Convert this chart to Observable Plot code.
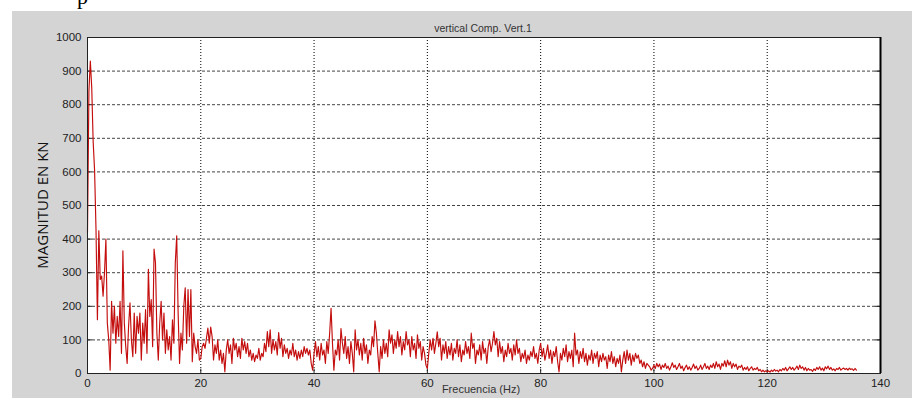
<!DOCTYPE html>
<html><head><meta charset="utf-8">
<script src="https://cdn.jsdelivr.net/npm/d3@7"></script>
<script src="https://cdn.jsdelivr.net/npm/@observablehq/plot@0.6"></script>
<style>
body{margin:0;background:#fff;}
#wrap{position:relative;width:912px;height:398px;overflow:hidden;font-family:"Liberation Sans",Arial,sans-serif;}
#bg{position:absolute;left:12px;top:11px;width:900px;height:387px;background:#d4d4d4;}
#cut{position:absolute;left:77px;top:-14px;font:22px/22px "Liberation Serif",serif;color:#000;}
#title{position:absolute;left:283px;width:400px;text-align:center;top:22px;font-size:10.5px;color:#333;}
#xlabel{position:absolute;left:381px;width:200px;text-align:center;top:383px;font-size:11px;color:#333;}
#ylabel{position:absolute;left:42px;top:205px;transform:translate(-50%,-50%) rotate(-90deg);font-family:"Open Sans",sans-serif;font-size:15px;white-space:nowrap;color:#111;}
#chart{position:absolute;left:0;top:0;}
</style>
</head><body>
<div id="wrap">
  <div id="bg"></div>
  <div id="cut">p</div>
  <div id="chart"></div>
  <div id="title">vertical Comp. Vert.1</div>
  <div id="xlabel">Frecuencia (Hz)</div>
  <div id="ylabel">MAGNITUD EN KN</div>
</div>
<script>
const freqStep = 0.25; // Hz between samples
const xTicks = [0, 20, 40, 60, 80, 100, 120, 140];
const yTicks = [0, 100, 200, 300, 400, 500, 600, 700, 800, 900, 1000];

const mag00to20 = [
  420, 840, 930, 850, 690, 605, 430, 160,
  425, 280, 290, 230, 300, 400, 150, 100,
  10, 215, 120, 200, 90, 170, 110, 215,
  60, 365, 150, 80, 30, 140, 210, 100,
  50, 180, 60, 170, 120, 180, 40, 150,
  90, 190, 60, 310, 170, 220, 80, 370,
  330, 120, 40, 150, 215, 100, 180, 60,
  130, 70, 110, 40, 160, 90, 330, 410,
  180, 30, 120, 70, 200, 255, 90, 250,
  110, 250, 35, 120, 80, 60, 100, 40
];
const mag20to40 = [
  45, 80, 90, 75, 105, 135, 90, 138,
  110, 40, 85, 60, 100, 40, 70, 30,
  60, 5, 70, 100, 60, 85, 30, 105,
  70, 90, 50, 80, 45, 105, 70, 95,
  60, 90, 50, 70, 40, 60, 35, 55,
  45, 75, 40, 60, 50, 90, 65, 125,
  80, 130, 60, 100, 70, 95, 55, 122,
  75, 105, 50, 85, 60, 75, 45, 70,
  55, 90, 50, 70, 40, 65, 45, 70,
  50, 80, 60, 75, 55, 70, 30, 10
];
const mag40to60 = [
  60, 95, 50, 80, 40, 90, 55, 70,
  30, 95, 60, 120, 194, 90, 10, 70,
  55, 100, 40, 134, 90, 60, 110, 45,
  80, 30, 95, 60, 5, 130, 70, 100,
  55, 90, 40, 105, 60, 85, 30, 70,
  55, 110, 80, 157, 120, 60, 5, 80,
  45, 100, 60, 90, 50, 130, 90, 115,
  60, 100, 75, 125, 80, 110, 55, 95,
  70, 125, 85, 100, 50, 110, 70, 90,
  45, 115, 75, 95, 40, 80, 60, 25
];
const mag60to80 = [
  15, 60, 100, 70, 105, 60, 90, 124,
  80, 105, 40, 85, 60, 95, 45, 80,
  55, 90, 40, 75, 60, 100, 50, 85,
  35, 70, 55, 95, 60, 80, 45, 120,
  75, 90, 30, 70, 55, 85, 40, 95,
  60, 75, 30, 80, 100, 65, 90, 125,
  85, 105, 50, 95, 60, 80, 35, 70,
  50, 90, 60, 75, 40, 85, 55, 100,
  60, 75, 35, 60, 45, 70, 30, 55,
  40, 65, 50, 80, 45, 60, 30, 70
];
const mag80to100 = [
  90, 50, 75, 40, 60, 85, 45, 70,
  30, 65, 50, 80, 35, 5, 60, 40,
  75, 50, 85, 35, 65, 45, 70, 20,
  120, 55, 70, 30, 65, 45, 75, 35,
  60, 25, 55, 40, 70, 30, 60, 45,
  65, 20, 55, 35, 60, 40, 50, 15,
  55, 35, 65, 30, 50, 20, 45, 30,
  55, 5, 40, 65, 30, 70, 40, 60,
  25, 55, 35, 60, 45, 55, 30, 40,
  20, 35, 15, 30, 25, 20, 10, 15
];
const mag100to120 = [
  25, 15, 30, 20, 28, 12, 25, 18,
  30, 15, 22, 10, 20, 32, 18, 25,
  12, 20, 30, 15, 22, 8, 18, 25,
  12, 20, 10, 18, 28, 15, 22, 10,
  15, 25, 12, 20, 30, 15, 22, 12,
  25, 18, 30, 15, 35, 20, 28, 12,
  30, 22, 38, 20, 40, 25, 35, 15,
  30, 20, 28, 12, 22, 18, 25, 10,
  18, 12, 20, 8, 15, 20, 10, 15,
  12, 18, 8, 12, 5, 10, 5, 8
];
const mag120to136 = [
  5, 8, 4, 10, 6, 12, 7, 10,
  5, 12, 8, 15, 10, 18, 8, 14,
  20, 12, 18, 10, 15, 22, 12, 25,
  15, 20, 10, 18, 8, 15, 10, 12,
  6, 14, 9, 18, 12, 20, 10, 16,
  8, 20, 14, 22, 12, 18, 10, 14,
  8, 15, 12, 18, 10, 14, 16, 12,
  15, 10, 16, 12, 14, 9, 15, 10
];

const magnitudes = [mag00to20, mag20to40, mag40to60, mag60to80, mag80to100, mag100to120, mag120to136].flat();
const data = magnitudes.map((v, i) => ({f: i * freqStep, v}));

const chart = Plot.plot({
  width: 912, height: 398,
  marginLeft: 87, marginRight: 32, marginTop: 37, marginBottom: 25,
  style: {background: "transparent", fontFamily: "'Liberation Sans', Arial, sans-serif", fontSize: "11.5px", color: "#222"},
  x: {domain: [0, 140], ticks: xTicks},
  y: {domain: [0, 1000], ticks: yTicks},
  marks: [
    Plot.frame({fill: "white", stroke: null}),
    Plot.gridY(yTicks.slice(1, -1), {stroke: "#444", strokeOpacity: 1, strokeDasharray: "3,2"}),
    Plot.gridX(xTicks.slice(1, -1), {stroke: "#000", strokeOpacity: 1, strokeDasharray: "1,2"}),
    Plot.ruleY(yTicks, {y: d => d, x1: 0, x2: 0.9, stroke: "#222"}),
    Plot.ruleY(yTicks, {y: d => d, x1: 139.1, x2: 140, stroke: "#222"}),
    Plot.ruleX(xTicks, {x: d => d, y1: 0, y2: 13, stroke: "#222"}),
    Plot.line(data, {x: "f", y: "v", stroke: "#c40d0d", strokeWidth: 1.15}),
    Plot.frame({stroke: "#222"}),
    Plot.ruleX([140], {stroke: "#000", strokeWidth: 2}),
    Plot.axisX(xTicks, {tickSize: 0, tickPadding: 5, label: null, tickFormat: d => String(d)}),
    Plot.axisY(yTicks, {tickSize: 0, tickPadding: 6, label: null, tickFormat: d => String(d)})
  ]
});
document.getElementById("chart").appendChild(chart);
</script>
</body></html>
